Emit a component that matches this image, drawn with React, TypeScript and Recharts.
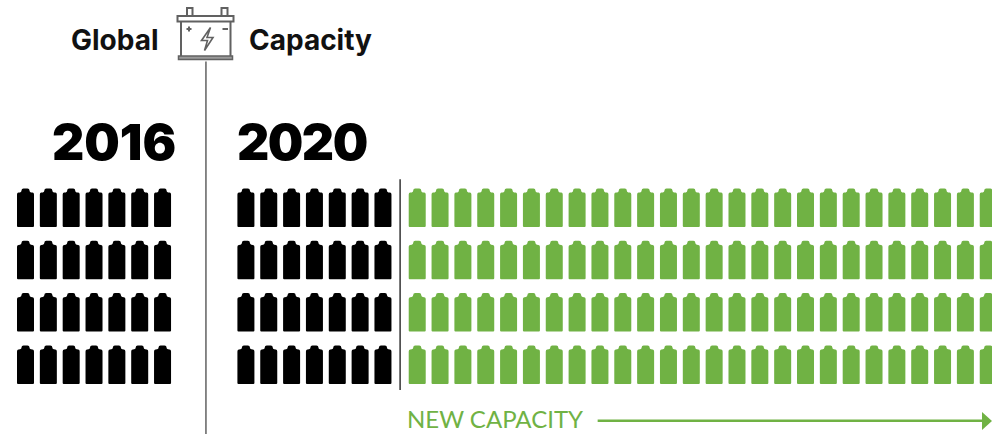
import { ScatterChart, Scatter, XAxis, YAxis, ReferenceLine } from 'recharts';

const WIDTH = 992;
const HEIGHT = 434;

// batteries per row (top to bottom), one pictogram unit each
const rows = [0, 1, 2, 3];
const units2016 = [7, 7, 7, 7];
const units2020Existing = [7, 7, 7, 7];
const units2020New = [26, 26, 26, 26];

// first column slot of every group, on the shared column axis
const start2016 = 0;
const start2020Existing = 9.65;
const start2020New = 17.15;

const BLACK = '#000000';
const GREEN = '#70B244';
const GREY = '#616161';
const FONT = 'Inter, "Noto Sans", sans-serif';

const buildUnits = (counts: number[], start: number) =>
  rows.flatMap(row =>
    Array.from({ length: counts[row] }, (_, i) => ({ slot: start + i, row })),
  );

const data2016 = buildUnits(units2016, start2016);
const data2020Existing = buildUnits(units2020Existing, start2020Existing);
const data2020New = buildUnits(units2020New, start2020New);

const Battery = ({ cx, cy, fill }: any) => {
  const x = cx - 8.5;
  const y = cy - 15;
  return (
    <path
      d={`M${x + 4.5} ${y - 2.5} Q${x + 4.5} ${y - 4.5} ${x + 6.5} ${y - 4.5} L${x + 10.5} ${y - 4.5} Q${x + 12.5} ${y - 4.5} ${x + 12.5} ${y - 2.5} Q${x + 12.5} ${y - 0.8} ${x + 14} ${y - 0.6} L${x + 15.5} ${y - 0.4} Q${x + 17} ${y - 0.2} ${x + 17} ${y + 1.5} L${x + 17} ${y + 33} Q${x + 17} ${y + 34} ${x + 16} ${y + 34} L${x + 1} ${y + 34} Q${x} ${y + 34} ${x} ${y + 33} L${x} ${y + 1.5} Q${x} ${y - 0.2} ${x + 1.5} ${y - 0.4} L${x + 3} ${y - 0.6} Q${x + 4.5} ${y - 0.8} ${x + 4.5} ${y - 2.5} Z`}
      fill={fill}
    />
  );
};

const BatteryIcon = () => (
  <g fill="none" stroke={GREY} strokeWidth={2}>
    <path d="M187 15V8H192.5V15M221.5 15V8H227.5V15" />
    <rect x={177.5} y={16} width={56} height={5.5} />
    <path d="M181 21.5V56M230.5 21.5V56" />
    <rect x={178.5} y={56} width={54} height={3.5} fill="#9A9A9A" strokeWidth={1.5} />
    <path d="M210.5 27.5L201.5 40.5H207.5L204.5 50.5L213 37.5H207Z" strokeWidth={1.6} />
    <path d="M186.5 29H191.5M189 26.5V31.5M222.5 29H228" />
  </g>
);

const App = () => (
  <div style={{ position: 'absolute', left: 0, top: 0, background: '#fff' }}>
    <ScatterChart
      width={WIDTH}
      height={HEIGHT}
      margin={{ top: 0, right: 0, bottom: 0, left: 0 }}
    >
      <XAxis type="number" dataKey="slot" hide domain={[-1.1165, 42.315]} allowDataOverflow />
      <YAxis type="number" dataKey="row" hide reversed domain={[-3.977, 4.321]} allowDataOverflow />

      <ReferenceLine
        segment={[{ x: 7.9, y: -2.8 }, { x: 7.9, y: 4.321 }]}
        stroke={GREY}
        strokeWidth={1.5}
      />
      <ReferenceLine
        segment={[{ x: 16.4, y: -0.55 }, { x: 16.4, y: 3.48 }]}
        stroke={BLACK}
        strokeWidth={1.2}
      />
      <ReferenceLine
        segment={[{ x: 25.05, y: 4.07 }, { x: 42.1, y: 4.07 }]}
        stroke={GREEN}
        strokeWidth={2.5}
      />

      <Scatter data={data2016} fill={BLACK} shape={Battery} isAnimationActive={false} />
      <Scatter data={data2020Existing} fill={BLACK} shape={Battery} isAnimationActive={false} />
      <Scatter data={data2020New} fill={GREEN} shape={Battery} isAnimationActive={false} />

      <path d="M982 412L992 421L982 430Z" fill={GREEN} />
      <BatteryIcon />
      <text x={71} y={50} fontFamily={FONT} fontSize={28} fontWeight={700} fill="#111">Global</text>
      <text x={249} y={50} fontFamily={FONT} fontSize={28} fontWeight={700} fill="#111">Capacity</text>
      <text x={52} y={160} fontFamily={FONT} fontSize={50} fontWeight={900} fill={BLACK}>2016</text>
      <text x={237} y={160} fontFamily={FONT} fontSize={50} fontWeight={900} fill={BLACK} letterSpacing={-1.5}>2020</text>
      <text x={407} y={428} fontFamily="Lato, sans-serif" fontSize={24} fontWeight={400} fill={GREEN}>NEW CAPACITY</text>
    </ScatterChart>
  </div>
);

export default App;
